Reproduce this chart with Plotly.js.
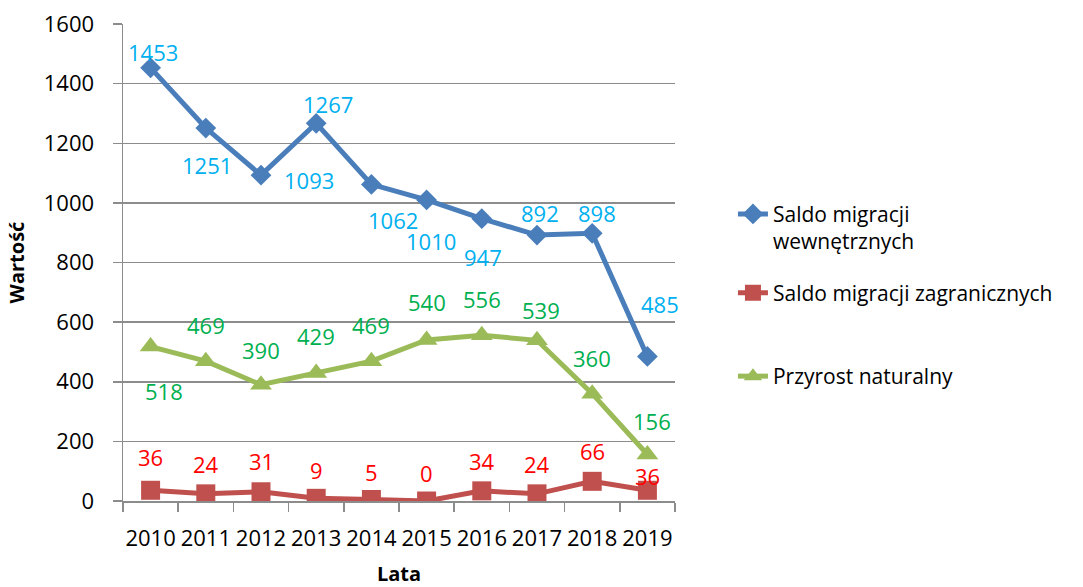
<!DOCTYPE html>
<html>
<head>
<meta charset="utf-8">
<script src="https://cdn.plot.ly/plotly-3.0.1.min.js"></script>
<style>html,body{margin:0;padding:0;background:#fff;}#chart{width:1083px;height:587px;}</style>
</head>
<body>
<div id="chart"></div>
<script>
// ---- data ----
const years = ['2010','2011','2012','2013','2014','2015','2016','2017','2018','2019'];
const saldoWewn = [1453, 1251, 1093, 1267, 1062, 1010, 947, 892, 898, 485];
const saldoZagr = [36, 24, 31, 9, 5, 0, 34, 24, 66, 36];
const przyrost = [518, 469, 390, 429, 469, 540, 556, 539, 360, 156];
const seriesNames = ['Saldo migracji<br>wewnętrznych', 'Saldo migracji zagranicznych', 'Przyrost naturalny'];
const yTicks = [0, 200, 400, 600, 800, 1000, 1200, 1400, 1600];

// ---- label placement (styling) ----
const offWewn = [[2,16],[1,-37],[48,-5],[12,19],[22,-36],[4,-41],[1,-38],[3,22],[5,20],[13,52]];
const offZagr = [[0,33],[0,30],[0,31],[0,28],[0,28],[0,28],[0,30],[0,30],[0,30],[0,14]];
const offPrzy = [[13,-44],[0,36],[0,35],[0,37],[0,36],[0,38],[0,36],[4,30],[0,36],[5,33]];

const FONT = 'Open Sans, Noto Sans, sans-serif';
const FS = 22;

function labels(vals, offs, color) {
  return vals.map((v, i) => ({
    x: i, y: v, xref: 'x', yref: 'y', text: String(v), showarrow: false,
    xshift: offs[i][0], yshift: offs[i][1],
    font: {family: FONT, size: FS, color: color}
  }));
}

const traces = [
  {x: years, y: saldoWewn, name: seriesNames[0], type: 'scatter', mode: 'lines+markers',
   line: {color: '#4a7ebb', width: 5}, marker: {symbol: 'diamond', size: 16, color: '#4a7ebb'},
   legend: 'legend'},
  {x: years, y: saldoZagr, name: seriesNames[1], type: 'scatter', mode: 'lines+markers',
   line: {color: '#c0504d', width: 5}, marker: {symbol: 'square', size: 19, color: '#c0504d'},
   legend: 'legend2'},
  {x: years, y: przyrost, name: seriesNames[2], type: 'scatter', mode: 'lines+markers',
   line: {color: '#9bbb59', width: 5}, marker: {symbol: 'triangle-up', size: 19, color: '#9bbb59'},
   legend: 'legend3'}
];

const legendBase = {xanchor: 'left', yanchor: 'top', bgcolor: 'rgba(0,0,0,0)', valign: 'top',
  font: {family: FONT, size: 21, color: '#000'}};

const layout = {
  width: 1083, height: 587,
  margin: {l: 123, r: 408, t: 24, b: 86},
  paper_bgcolor: '#fff', plot_bgcolor: '#fff',
  font: {family: FONT, size: FS, color: '#000'},
  showlegend: true,
  xaxis: {
    type: 'category', range: [-0.5, 9.5], showgrid: false, zeroline: false,
    showline: true, linecolor: '#8c8c8c', linewidth: 1.5, tickangle: 0,
    ticks: 'outside', tickson: 'boundaries', ticklen: 9, tickcolor: '#8c8c8c', tickwidth: 1.5,
    tickfont: {family: FONT, size: FS, color: '#000'}, ticklabelstandoff: 17,
    title: {text: '<b>Lata</b>', font: {family: FONT, size: 20, color: '#000'}, standoff: 16}
  },
  yaxis: {
    range: [0, 1600], tickvals: yTicks, ticktext: yTicks.map(String),
    showgrid: true, gridcolor: '#8c8c8c', gridwidth: 1.5, zeroline: false,
    showline: true, linecolor: '#8c8c8c', linewidth: 1.5,
    ticks: 'outside', ticklen: 9, tickcolor: '#8c8c8c', tickwidth: 1.5,
    tickfont: {family: FONT, size: FS, color: '#000'}, ticklabelstandoff: 14,
    title: {text: '<b>Wartość</b>', font: {family: FONT, size: 20, color: '#000'}, standoff: 14}
  },
  legend: Object.assign({}, legendBase, {x: 1.105, y: 0.644}),
  legend2: Object.assign({}, legendBase, {x: 1.105, y: 0.479}),
  legend3: Object.assign({}, legendBase, {x: 1.105, y: 0.304}),
  annotations: [].concat(
    labels(saldoWewn, offWewn, '#00b0f0'),
    labels(saldoZagr, offZagr, '#ff0000'),
    labels(przyrost, offPrzy, '#00b050')
  )
};

Plotly.newPlot('chart', traces, layout, {displayModeBar: false, staticPlot: true});
</script>
</body>
</html>
